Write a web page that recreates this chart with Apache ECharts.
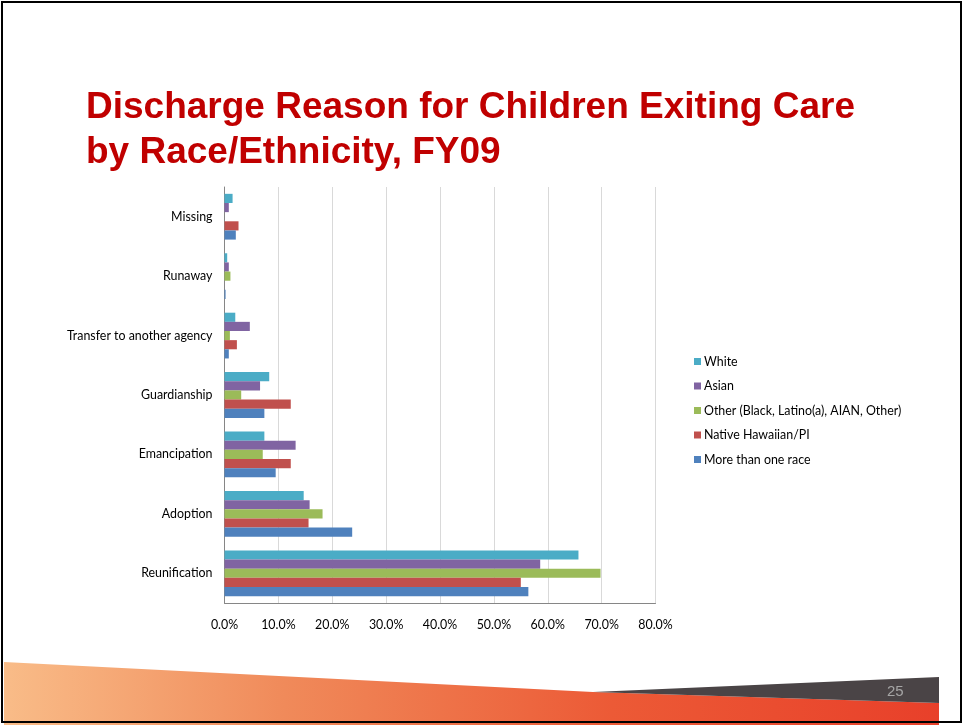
<!DOCTYPE html>
<html>
<head>
<meta charset="utf-8">
<script src="https://cdn.jsdelivr.net/npm/echarts@6/dist/echarts.min.js"></script>
<style>
html,body{margin:0;padding:0;background:#fff;}
#chart{width:965px;height:725px;}
</style>
</head>
<body>
<div id="chart"></div>
<script>
var categories = ['Reunification', 'Adoption', 'Emancipation', 'Guardianship', 'Transfer to another agency', 'Runaway', 'Missing'];
var seriesNames = ['White', 'Asian', 'Other (Black, Latino(a), AIAN, Other)', 'Native Hawaiian/PI', 'More than one race'];
var white    = [65.7, 14.7, 7.4, 8.3, 2.0, 0.5, 1.5];
var asian    = [58.6, 15.8, 13.2, 6.6, 4.7, 0.8, 0.8];
var other    = [69.8, 18.2, 7.1, 3.1, 1.0, 1.1, 0.0];
var nativeHI = [55.0, 15.6, 12.3, 12.3, 2.3, 0.0, 2.6];
var multi    = [56.4, 23.7, 9.5, 7.4, 0.8, 0.2, 2.1];
var titleLines = ['Discharge Reason for Children Exiting Care', 'by Race/Ethnicity, FY09'];

var colors = ['#4BACC6', '#8064A2', '#9BBB59', '#C0504D', '#4F81BD'];
var values = [white, asian, other, nativeHI, multi];
var font = 'Lato, "Noto Sans", sans-serif';
var fs = 12.4;

var chart = echarts.init(document.getElementById('chart'));
var series = seriesNames.map(function (n, i) {
  return {
    name: n,
    type: 'bar',
    data: values[i],
    barGap: '0%',
    barCategoryGap: '23%',
    itemStyle: { color: colors[i] },
    emphasis: { disabled: true },
    animation: false
  };
});

var titleFont = 'bold 37px "Liberation Sans", Arial, sans-serif';

chart.setOption({
  animation: false,
  legend: {
    orient: 'vertical',
    left: 689, top: 350,
    itemWidth: 7, itemHeight: 7, itemGap: 11.5,
    icon: 'rect',
    data: seriesNames,
    selectedMode: false,
    textStyle: { fontSize: fs, fontFamily: font, color: '#000', lineHeight: 13, padding: [0,0,0,-2] }
  },
  grid: { left: 224.5, right: 309.5, top: 187, bottom: 122, containLabel: false },
  xAxis: {
    type: 'value', min: 0, max: 80, interval: 10,
    axisLine: { show: true, lineStyle: { color: '#868686', width: 1 } },
    axisTick: { show: false },
    splitLine: { lineStyle: { color: '#D9D9D9', width: 1 } },
    axisLabel: { margin: 16, fontSize: fs, fontFamily: font, color: '#000',
      formatter: function (v) { return v.toFixed(1) + '%'; } }
  },
  yAxis: {
    type: 'category', data: categories,
    axisLine: { show: true, lineStyle: { color: '#868686', width: 1 } },
    axisTick: { show: false },
    axisLabel: { margin: 12, fontSize: fs, fontFamily: font, color: '#000' }
  },
  series: series,
  graphic: [
    {
      type: 'text', z: 5, silent: true,
      x: 86, y: 107.5,
      style: { text: titleLines[0], fill: '#C00000', font: titleFont, verticalAlign: 'middle' }
    },
    {
      type: 'text', z: 5, silent: true,
      x: 86, y: 152.5,
      style: { text: titleLines[1], fill: '#C00000', font: titleFont, verticalAlign: 'middle' }
    },
    {
      type: 'polygon', z: 10, silent: true,
      shape: { points: [[4, 662], [593, 692], [939, 703], [939, 725], [4, 725]] },
      style: {
        fill: new echarts.graphic.LinearGradient(0, 0, 1, 0, [
          { offset: 0, color: '#F9BC88' },
          { offset: 0.3, color: '#F08A5A' },
          { offset: 0.65, color: '#EC5A36' },
          { offset: 1, color: '#E8402A' }
        ])
      }
    },
    {
      type: 'polygon', z: 11, silent: true,
      shape: { points: [[593, 692], [939, 677], [939, 703]] },
      style: { fill: '#4A4446' }
    },
    {
      type: 'text', z: 12, silent: true,
      x: 887, y: 692,
      style: { text: '25', fill: '#A6A6A6', font: '15px "Liberation Sans", Arial, sans-serif', verticalAlign: 'middle' }
    },
    {
      type: 'rect', z: 20, silent: true,
      shape: { x: 2, y: 2, width: 959, height: 720 },
      style: { fill: 'none', stroke: '#000', lineWidth: 2 }
    }
  ]
});
</script>
</body>
</html>
